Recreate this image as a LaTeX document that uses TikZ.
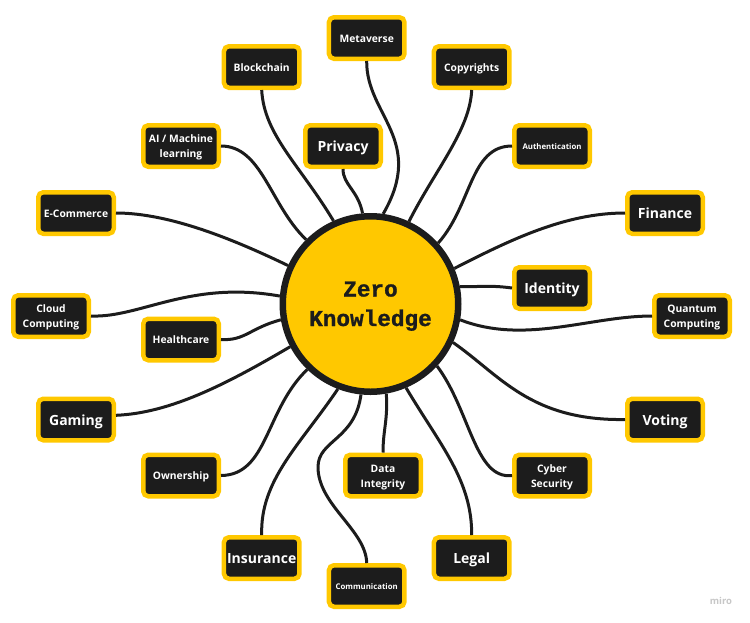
\documentclass[tikz,border=0pt]{standalone}
\usepackage{fontspec}
\setmainfont{Open Sans}
\newfontfamily\hubfont{Liberation Mono}[BoldFeatures={FakeBold=1.2}]
\definecolor{zkyellow}{HTML}{FFC800}
\definecolor{zkblack}{HTML}{1C1C1C}
\begin{document}
\begin{tikzpicture}[x=1pt,y=-1pt,thick,
    hub node/.style={circle,draw=zkblack,fill=zkyellow,line width=6.5pt,minimum size=175.5pt,inner sep=0pt,align=center,text=zkblack,font=\hubfont\bfseries\fontsize{22.7}{29.5}\selectfont,text height=44pt,text depth=0pt},
    main node/.style={rectangle,rounded corners=5pt,draw=zkyellow,fill=zkblack,line width=4.5pt,minimum width=75.5pt,minimum height=41.5pt,inner sep=0pt,align=center,text=white,font=\bfseries\fontsize{10.3}{15}\selectfont,execute at begin node={\rule[-.2em]{0pt}{1.25em}}},
    long node/.style={main node,text height=23.4pt,text depth=0pt},
    big node/.style={main node,font=\bfseries\fontsize{14}{16}\selectfont},
    tiny node/.style={main node,font=\bfseries\fontsize{7.8}{10}\selectfont},
    link/.style={draw=zkblack,line width=3pt}]

        \useasboundingbox (0,0) rectangle (750,622);

        \node[hub node] (Zero) at (370.5,304) {Zero\\Knowledge};

        % top and left nodes
        \node[main node] (Metaverse) at (366.7,38) {Metaverse};
        \node[main node] (Blockchain) at (261.7,67) {Blockchain};
        \node[long node] (AI) at (181,146) {AI / Machine\\learning};
        \node[big node] (Privacy) [right of=AI, node distance=162pt] {Privacy};
        \node[main node] (Ecommerce) at (76,213) {E-Commerce};
        \node[long node] (Cloud) at (51,316) {Cloud\\Computing};
        \node[main node] (Healthcare) at (181,339.5) {Healthcare};
        \node[big node] (Gaming) at (76,419.5) {Gaming};
        \node[main node] (Ownership) at (181,475.5) {Ownership};
        \node[big node] (Insurance) at (261.7,558) {Insurance};
        \node[tiny node] (Communication) at (366.7,586) {Communication};

        % partners on the same row
        \node[main node] (Copyrights) [right of=Blockchain, node distance=210pt] {Copyrights};
        \node[tiny node] (Authentication) [right of=AI, node distance=371pt] {Authentication};
        \node[big node] (Finance) [right of=Ecommerce, node distance=589pt] {Finance};
        \node[big node] (Identity) at (552,288) {Identity};
        \node[long node] (Quantum) [right of=Cloud, node distance=641pt] {Quantum\\Computing};
        \node[big node] (Voting) [right of=Gaming, node distance=589pt] {Voting};
        \node[long node] (Cyber) [right of=Ownership, node distance=371pt] {Cyber\\Security};
        \node[long node] (Data) [right of=Ownership, node distance=202pt] {Data\\Integrity};
        \node[big node] (Legal) [right of=Insurance, node distance=210pt] {Legal};

        \node[text=black!22,font=\bfseries\fontsize{9.5}{10}\selectfont] (miro) at (721,601) {miro};

        \coordinate (CommBend) at (318,467);

        \draw[link] (Metaverse.south) .. controls (366,115) and (426,140) .. (Zero.82);
        \draw[link] (Blockchain.south) .. controls (264,135) and (300,165) .. (Zero.114);
        \draw[link] (AI.east) .. controls (262,146) and (270,205) .. (Zero.135);
        \draw[link] (Privacy.south) .. controls (343,185) and (358,190) .. (Zero.95);
        \draw[link] (Copyrights.south) .. controls (470,130) and (435,170) .. (Zero.65);
        \draw[link] (Authentication.west) .. controls (470,146) and (472,205) .. (Zero.42.5);
        \draw[link] (Finance.west) .. controls (565,213) and (510,240) .. (Zero.23);
        \draw[link] (Identity.west) .. controls (490,285) and (480,287) .. (Zero.11);
        \draw[link] (Quantum.west) .. controls (590,316) and (525,345) .. (Zero.-10);
        \draw[link] (Voting.west) .. controls (530,421) and (500,375) .. (Zero.-25);
        \draw[link] (Cyber.west) .. controls (475,480) and (470,410) .. (Zero.-43.5);
        \draw[link] (Legal.north) .. controls (472,480) and (440,445) .. (Zero.-67);
        \draw[link] (Data.north) .. controls (383,430) and (388,420) .. (Zero.-80);
        \draw[link] (Communication.north) .. controls (366,530) and (318,505) .. (CommBend) .. controls (318,440) and (355,440) .. (Zero.-96.5);
        \draw[link] (Insurance.north) .. controls (260,480) and (300,445) .. (Zero.-111);
        \draw[link] (Ownership.east) .. controls (268,475) and (265,410) .. (Zero.-134);
        \draw[link] (Gaming.6) .. controls (170,413) and (225,385) .. (Zero.-152.5);
        \draw[link] (Healthcare.east) .. controls (245,341) and (250,328) .. (Zero.-170);
        \draw[link] (Cloud.east) .. controls (140,318) and (190,280) .. (Zero.175.6);
        \draw[link] (Ecommerce.east) .. controls (170,213) and (235,240) .. (Zero.155.5);
    \end{tikzpicture}
\end{document}
